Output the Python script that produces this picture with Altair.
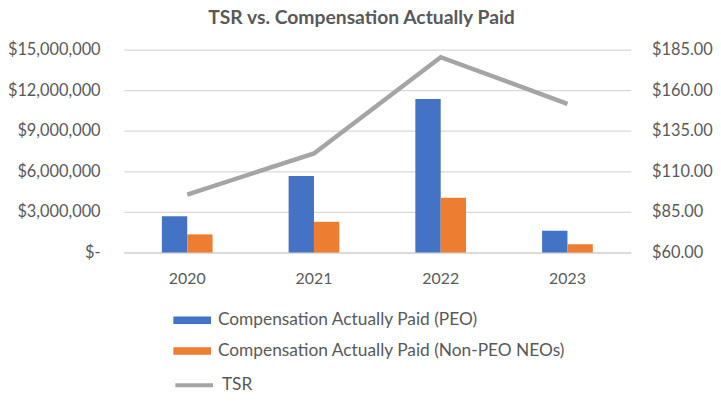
import altair as alt
import pandas as pd

years = ["2020", "2021", "2022", "2023"]
peo = [2680000, 5650000, 11340000, 1610000]
non_peo = [1340000, 2270000, 4050000, 610000]
tsr = [95.7, 121.0, 180.3, 151.5]

s_peo = "Compensation Actually Paid (PEO)"
s_non = "Compensation Actually Paid (Non-PEO NEOs)"
s_tsr = "TSR"

bars_df = pd.DataFrame(
    [{"year": y, "series": s_peo, "value": v} for y, v in zip(years, peo)]
    + [{"year": y, "series": s_non, "value": v} for y, v in zip(years, non_peo)]
)
line_df = pd.DataFrame({"year": years, "line": [s_tsr] * 4, "tsr": tsr})

FONT = "Lato"
GRAY = "#595959"

x_scale = alt.Scale(paddingInner=0.6, paddingOuter=0.3)
x_axis = alt.Axis(title=None, labelAngle=0, ticks=False, domainColor="#D9D9D9", domainWidth=1.3,
                  labelPadding=18, labelFontSize=16, labelColor=GRAY, labelFont=FONT)

bar_legend = alt.Legend(
    title=None, orient="none", legendX=59.5, legendY=264, direction="vertical",
    symbolType="M-2,-0.4H2V0.4H-2Z", symbolSize=361, symbolOpacity=1, symbolStrokeWidth=0,
    labelFontSize=17.5, labelFont=FONT, labelColor=GRAY, labelOffset=16.5, rowPadding=13,
    labelLimit=500,
)
line_legend = alt.Legend(
    title=None, orient="none", legendX=50, legendY=318, direction="vertical",
    symbolType="stroke", symbolSize=1444, symbolOpacity=1, symbolStrokeWidth=4,
    labelFontSize=17.5, labelFont=FONT, labelColor=GRAY, labelOffset=7,
    labelLimit=500,
)

bars = alt.Chart(bars_df).mark_bar().encode(
    x=alt.X("year:N", scale=x_scale, axis=x_axis),
    xOffset=alt.XOffset("series:N", sort=[s_peo, s_non]),
    y=alt.Y("value:Q", scale=alt.Scale(domain=[0, 15000000]),
            axis=alt.Axis(title=None, values=[0, 3000000, 6000000, 9000000, 12000000, 15000000],
                          labelExpr="datum.value == 0 ? '$-' : format(datum.value, '$,.0f')",
                          ticks=False, domain=False, gridColor="#D9D9D9", gridWidth=1.3,
                          labelPadding=24, labelFontSize=16.5, labelColor=GRAY, labelFont=FONT)),
    color=alt.Color("series:N", scale=alt.Scale(domain=[s_peo, s_non], range=["#4472C4", "#ED7D31"]),
                    legend=bar_legend),
)

line = alt.Chart(line_df).mark_line(strokeWidth=4.5, strokeCap="butt", strokeJoin="miter").encode(
    x=alt.X("year:N", scale=x_scale, axis=x_axis),
    y=alt.Y("tsr:Q", scale=alt.Scale(domain=[60, 185]),
            axis=alt.Axis(title=None, orient="right", values=[60, 85, 110, 135, 160, 185],
                          format="$.2f", ticks=False, domain=False, grid=False,
                          labelPadding=21, labelFontSize=16.5, labelColor=GRAY, labelFont=FONT)),
    stroke=alt.Stroke("line:N", scale=alt.Scale(domain=[s_tsr], range=["#A5A5A5"]), legend=line_legend),
)

chart = alt.layer(bars, line).resolve_scale(y="independent").properties(
    width=512, height=205,
    autosize=alt.AutoSizeParams(type="none"),
    padding={"left": 117, "top": 40, "right": 83, "bottom": 146},
    title=alt.TitleParams("TSR vs. Compensation Actually Paid", font=FONT, fontSize=19.5,
                          fontWeight="bold", color=GRAY, anchor="middle", dx=-16, offset=13),
).configure_view(stroke=None)

chart.save("out.html", embed_options={"renderer": "svg", "actions": False})
